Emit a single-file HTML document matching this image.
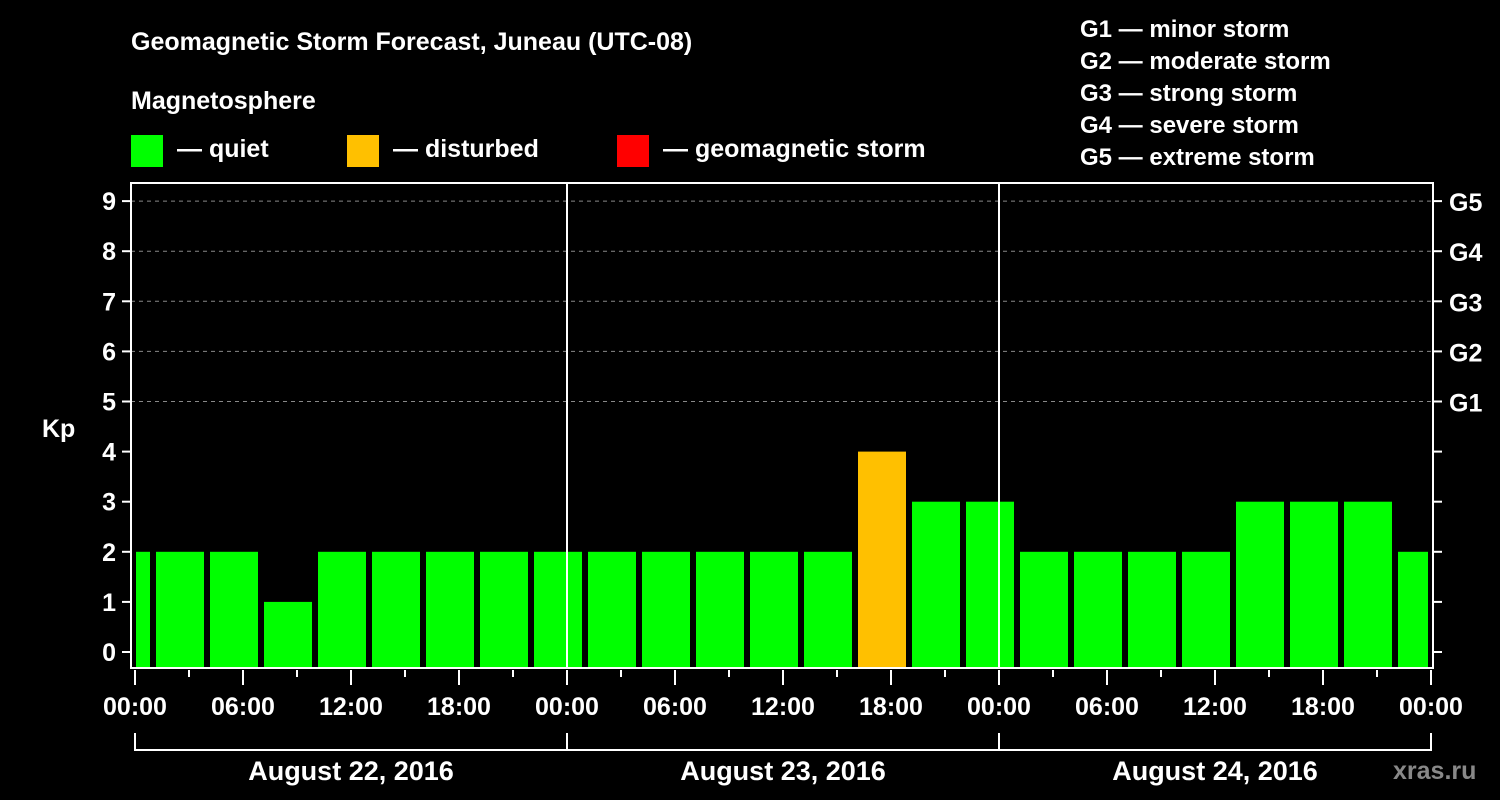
<!DOCTYPE html>
<html><head><meta charset="utf-8"><style>
html,body{margin:0;padding:0;background:#000;width:1500px;height:800px;overflow:hidden}
svg text{font-family:"Liberation Sans",Arial,sans-serif;font-weight:bold;fill:#fff}
</style></head><body>
<svg id="chart" width="1500" height="800" xmlns="http://www.w3.org/2000/svg">
<text x="131" y="50" font-size="25">Geomagnetic Storm Forecast, Juneau (UTC-08)</text>
<text x="131" y="109" font-size="25">Magnetosphere</text>
<g>
<rect x="131" y="135" width="32" height="32" fill="#00ff00"/>
<text x="177" y="157" font-size="25">— quiet</text>
<rect x="347" y="135" width="32" height="32" fill="#ffc000"/>
<text x="393" y="157" font-size="25">— disturbed</text>
<rect x="617" y="135" width="32" height="32" fill="#ff0000"/>
<text x="663" y="157" font-size="25">— geomagnetic storm</text>
</g>
<g font-size="24">
<text x="1080" y="37" font-size="24">G1 — minor storm</text>
<text x="1080" y="69" font-size="24">G2 — moderate storm</text>
<text x="1080" y="101" font-size="24">G3 — strong storm</text>
<text x="1080" y="133" font-size="24">G4 — severe storm</text>
<text x="1080" y="165" font-size="24">G5 — extreme storm</text>
</g>
<text x="42" y="437" font-size="25">Kp</text>
<text x="1393" y="779" font-size="25" style="fill:#888">xras.ru</text>
<g id="grid"></g><g id="bars"></g><g id="axes"></g>
</svg>
<script>
const kpValues=[2,2,2,1,2,2,2,2,2, 2,2,2,2,2,4,3,3, 2,2,2,2,3,3,3,2];
const barStartHours=[-2,1,4,7,10,13,16,19,22,25,28,31,34,37,40,43,46,49,52,55,58,61,64,67,70];
const yTicks=[0,1,2,3,4,5,6,7,8,9];
const gLabels=["G1","G2","G3","G4","G5"];
const gLevels=[5,6,7,8,9];
const dayLabels=["August 22, 2016","August 23, 2016","August 24, 2016"];
const hourLabels=["00:00","06:00","12:00","18:00"];
const NS="http://www.w3.org/2000/svg";
const L=131,R=1433,T=183,B=668;
const x=h=>135+h*18;
const y=v=>652-v*50.1;
function mk(tag,attrs,parent,txt){const e=document.createElementNS(NS,tag);for(const k in attrs)e.setAttribute(k,attrs[k]);if(txt!==undefined)e.textContent=txt;parent.appendChild(e);return e;}
const grid=document.getElementById('grid'),bars=document.getElementById('bars'),axes=document.getElementById('axes');
gLevels.forEach(v=>{const l=mk('line',{x1:L,x2:R,y1:y(v),y2:y(v),stroke:'#888','stroke-dasharray':'4,4','stroke-width':1},grid);

});
kpValues.forEach((v,i)=>{let x0=Math.max(x(barStartHours[i])+3,L+5),x1=Math.min(x(barStartHours[i]+3)-3,R-5);
const c=v>=5?'#ff0000':(v>=4?'#ffc000':'#00ff00');
const r=mk('rect',{x:x0,y:y(v),width:x1-x0,height:B-1-y(v),fill:c},bars);

});
[1,2].forEach(d=>{const l=mk('line',{x1:x(d*24),x2:x(d*24),y1:T,y2:B,stroke:'#fff','stroke-width':2},axes);

});
const fr=mk('rect',{x:L,y:T,width:R-L,height:B-T,fill:'none',stroke:'#fff','stroke-width':2},axes);


yTicks.forEach(v=>{mk('line',{x1:122,x2:L,y1:y(v),y2:y(v),stroke:'#fff','stroke-width':2},axes);
mk('line',{x1:R,x2:1442,y1:y(v),y2:y(v),stroke:'#fff','stroke-width':2},axes);
const t=mk('text',{x:116,y:y(v)+9,'font-size':25,'text-anchor':'end'},axes,String(v));

});
gLevels.forEach((v,i)=>{const t=mk('text',{x:1449,y:y(v)+10,'font-size':25},axes,gLabels[i]);

});
for(let h=0;h<=72;h+=3){const major=h%6===0;mk('line',{x1:x(h),x2:x(h),y1:B+2,y2:major?B+17:B+9,stroke:'#fff','stroke-width':2},axes);
if(major){const t=mk('text',{x:x(h),y:715,'font-size':25,'text-anchor':'middle'},axes,hourLabels[(h/6)%4]);

}}
mk('path',{d:`M${x(0)} 733 V750 H${x(72)} V733 M${x(24)} 733 V750 M${x(48)} 733 V750`,stroke:'#fff','stroke-width':2,fill:'none'},axes);
dayLabels.forEach((d,i)=>{const t=mk('text',{x:x(i*24+12),y:780,'font-size':27,'text-anchor':'middle'},axes,d);

});
</script>
</body></html>
